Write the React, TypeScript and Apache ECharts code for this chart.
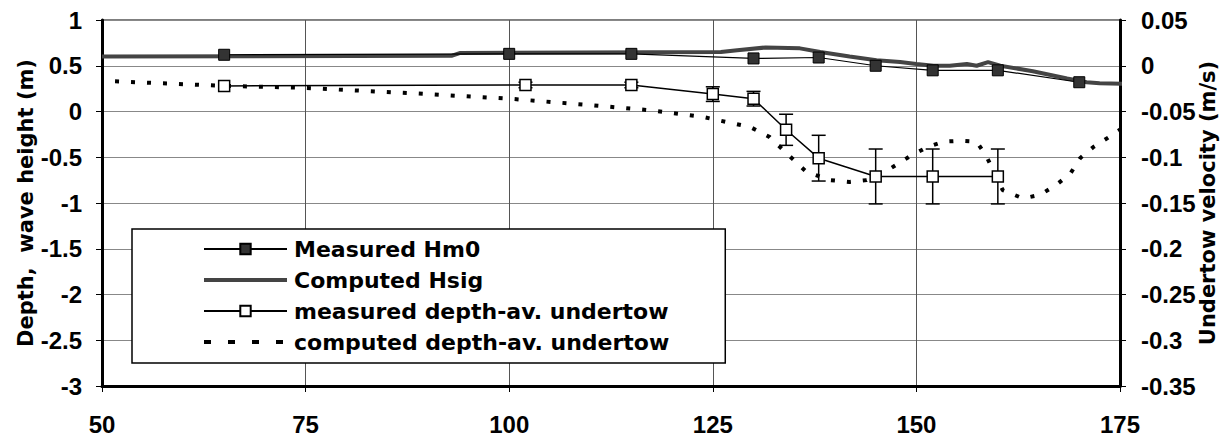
import React, { useEffect, useRef } from "react";
import * as echarts from "echarts";

// Measured Hm0 (left axis, m)
const hm0X = [65, 100, 115, 130, 138, 145, 152, 160, 170];
const hm0Y = [0.62, 0.63, 0.63, 0.58, 0.59, 0.5, 0.45, 0.45, 0.32];

// Computed Hsig (left axis, m)
const hsigX = [50, 93, 94, 126, 128, 131.5, 135.7, 138.2, 141.8, 145.1, 148, 150, 152.1, 154.1, 156.2, 157.4, 158.8, 160.3, 164.3, 168.5, 170.9, 172.5, 176];
const hsigY = [0.6, 0.61, 0.64, 0.65, 0.67, 0.7, 0.69, 0.65, 0.6, 0.56, 0.54, 0.52, 0.5, 0.5, 0.52, 0.5, 0.54, 0.5, 0.44, 0.36, 0.32, 0.31, 0.3];

// Measured depth-averaged undertow (right axis, m/s) with error half-widths
const utX = [65, 102, 115, 125, 130, 134, 138, 145, 152, 160];
const utY = [-0.022, -0.021, -0.021, -0.031, -0.036, -0.07, -0.101, -0.121, -0.121, -0.121];
const utErr = [0, 0.003, 0.003, 0.008, 0.008, 0.017, 0.025, 0.03, 0.03, 0.03];

// Computed depth-averaged undertow (right axis, m/s)
const cuX = [51.6, 65, 74.3, 88, 100, 110, 117.7, 123.8, 129.6, 132, 134.1, 136.5, 139.4, 141.8, 143.9, 146.5, 149.2, 151.3, 153.3, 155.4, 157.4, 158.6, 160.6, 163.1, 165.2, 167.2, 168.9, 170.1, 171.7, 174, 175.8];
const cuY = [-0.017, -0.022, -0.024, -0.03, -0.036, -0.043, -0.049, -0.056, -0.067, -0.078, -0.096, -0.116, -0.125, -0.127, -0.125, -0.114, -0.099, -0.089, -0.083, -0.082, -0.083, -0.099, -0.136, -0.145, -0.141, -0.13, -0.118, -0.101, -0.089, -0.076, -0.065];

const seriesNames = [
  "Measured Hm0",
  "Computed Hsig",
  "measured depth-av. undertow",
  "computed depth-av. undertow",
];

const leftAxisName = "Depth,  wave height (m)";
const rightAxisName = "Undertow velocity (m/s)";

const tickFont = { fontFamily: "Liberation Sans", fontWeight: "bold" as const, fontSize: 24, color: "#000" };
const nameFont = { fontFamily: "DejaVu Sans", fontWeight: "bold" as const, fontSize: 21, color: "#000" };

export default function App() {
  const ref = useRef<HTMLDivElement>(null);
  useEffect(() => {
    if (!ref.current) return;
    const chart = echarts.init(ref.current, undefined, { renderer: "svg" });
    const pairs = (xs: number[], ys: number[]) => xs.map((x, i) => [x, ys[i]]);
    const errData = utX
      .map((x, i) => [x, utY[i] - utErr[i], utY[i] + utErr[i]])
      .filter((d, i) => utErr[i] > 0);

    chart.setOption({
      animation: false,
      backgroundColor: "#fff",
      grid: {
        left: 102,
        top: 20,
        right: 109,
        bottom: 55,
        containLabel: false,
        outerBoundsMode: "none",
        show: true,
        borderColor: "#555",
        borderWidth: 1.5,
      },
      legend: {
        orient: "vertical",
        left: 132,
        top: 229,
        data: [
          { name: seriesNames[0] },
          { name: seriesNames[1], itemStyle: { opacity: 0 }, lineStyle: { color: "#444", width: 4, opacity: 1 } },
          { name: seriesNames[2] },
          { name: seriesNames[3], itemStyle: { opacity: 0 }, lineStyle: { color: "#000", type: [7, 17], width: 4, opacity: 1 } },
        ],
        backgroundColor: "#fff",
        borderColor: "#000",
        borderWidth: 1.5,
        padding: [9, 56, 10, 70],
        itemWidth: 83,
        itemHeight: 13,
        itemGap: 9,
        selectedMode: false,
        textStyle: { ...nameFont, fontSize: 22, lineHeight: 22, padding: [0, 0, 0, 2] },
      },
      xAxis: {
        type: "value",
        min: 50,
        max: 175,
        interval: 25,
        axisLine: { show: true, onZero: false, lineStyle: { color: "#000", width: 3 } },
        axisTick: { show: true, length: 6, lineStyle: { color: "#000", width: 1 } },
        axisLabel: { ...tickFont, margin: 26 },
        splitLine: { show: true, lineStyle: { color: "#555", width: 1 } },
      },
      yAxis: [
        {
          type: "value",
          min: -3,
          max: 1,
          interval: 0.5,
          name: leftAxisName,
          nameLocation: "middle",
          nameRotate: 90,
          nameGap: 66,
          nameMoveOverlap: false,
          nameTextStyle: nameFont,
          axisLine: { show: true, onZero: false, lineStyle: { color: "#000", width: 3 } },
          axisTick: { show: true, length: 6, lineStyle: { color: "#000", width: 1 } },
          axisLabel: { ...tickFont, margin: 20, formatter: (v: number) => String(+v.toFixed(2)) },
          splitLine: { show: true, lineStyle: { color: "#888", width: 1 } },
        },
        {
          type: "value",
          min: -0.35,
          max: 0.05,
          interval: 0.05,
          position: "right",
          name: rightAxisName,
          nameLocation: "middle",
          nameRotate: 90,
          nameGap: 77,
          nameMoveOverlap: false,
          nameTextStyle: nameFont,
          axisLine: { show: true, onZero: false, lineStyle: { color: "#000", width: 3 } },
          axisTick: { show: true, length: 6, lineStyle: { color: "#000", width: 1 } },
          axisLabel: { ...tickFont, margin: 21, formatter: (v: number) => String(+v.toFixed(2)) },
          splitLine: { show: false },
        },
      ],
      series: [
        {
          name: seriesNames[1],
          type: "line",
          data: pairs(hsigX, hsigY),
          yAxisIndex: 0,
          showSymbol: false,
          symbol: "none",
          clip: false,
          lineStyle: { color: "#444", width: 4 },
          itemStyle: { color: "#444" },
          z: 2,
        },
        {
          name: seriesNames[0],
          type: "line",
          data: pairs(hm0X, hm0Y),
          yAxisIndex: 0,
          symbol: "rect",
          symbolSize: 11,
          lineStyle: { color: "#000", width: 1.2 },
          itemStyle: { color: "#333", borderColor: "#000", borderWidth: 1 },
          z: 4,
        },
        {
          name: "errorbars",
          type: "custom",
          yAxisIndex: 1,
          data: errData,
          encode: { x: 0, y: [1, 2] },
          renderItem: (params: any, api: any) => {
            const x = api.value(0);
            const lo = api.coord([x, api.value(1)]);
            const hi = api.coord([x, api.value(2)]);
            const w = 7;
            const st = { stroke: "#000", lineWidth: 1.5 };
            return {
              type: "group",
              children: [
                { type: "line", shape: { x1: hi[0], y1: hi[1], x2: lo[0], y2: lo[1] }, style: st },
                { type: "line", shape: { x1: hi[0] - w, y1: hi[1], x2: hi[0] + w, y2: hi[1] }, style: st },
                { type: "line", shape: { x1: lo[0] - w, y1: lo[1], x2: lo[0] + w, y2: lo[1] }, style: st },
              ],
            };
          },
          z: 5,
        },
        {
          name: seriesNames[2],
          type: "line",
          data: pairs(utX, utY),
          yAxisIndex: 1,
          symbol: "rect",
          symbolSize: 11,
          lineStyle: { color: "#000", width: 1.5 },
          itemStyle: { color: "#fff", borderColor: "#000", borderWidth: 1.5 },
          z: 6,
        },
        {
          name: seriesNames[3],
          type: "line",
          data: pairs(cuX, cuY),
          yAxisIndex: 1,
          showSymbol: false,
          symbol: "none",
          clip: false,
          lineStyle: { color: "#000", width: 4, type: [4, 12] },
          itemStyle: { color: "#000" },
          z: 3,
        },
      ],
    });
    return () => chart.dispose();
  }, []);
  return (
    <div
      ref={ref}
      style={{ position: "fixed", left: 0, top: 0, width: 1229, height: 441, background: "#fff" }}
    />
  );
}
